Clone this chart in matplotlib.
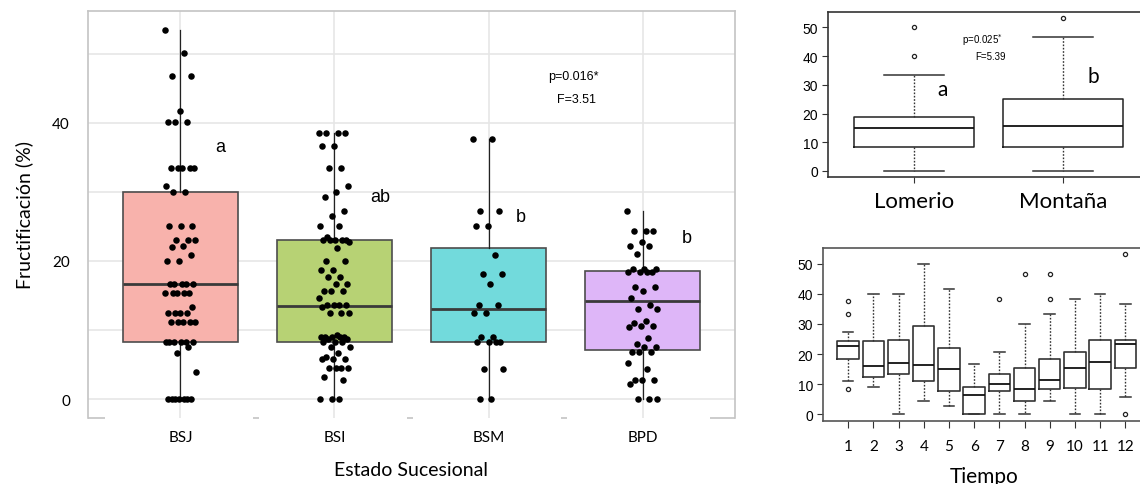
import numpy as np
import matplotlib.pyplot as plt
from matplotlib import transforms

# Fructificación (%) por estado sucesional
estados = ['BSJ', 'BSI', 'BSM', 'BPD']
colores = ['#F8B2AC', '#B7D274', '#72DADC', '#DEB6F8']

fruct_bsj = [53.5, 50.1, 46.8, 46.8, 41.7, 40.1, 40.1, 40.1,
             33.4, 33.4, 33.4, 33.4, 33.4, 30.8, 30.0, 30.0,
             25.0, 25.0, 25.0, 23.1, 23.1, 23.1, 22.2, 22.0, 20.8, 20.0, 20.0,
             16.7, 16.7, 16.7, 16.7, 16.7, 15.3, 15.3, 15.3, 15.3, 15.3,
             13.3, 12.5, 12.5, 12.5, 12.5, 11.1, 11.1, 11.1, 11.1, 11.1,
             8.3, 8.3, 8.3, 8.3, 8.3, 8.3, 7.6, 6.6, 3.9,
             0, 0, 0, 0, 0, 0, 0]
fruct_bsi = [38.5, 38.5, 38.5, 38.5, 36.7, 36.7, 33.4, 33.4, 30.8, 30.0, 29.2,
             27.3, 26.5, 25.0, 25.0, 23.5, 23.1, 23.1, 23.1, 23.1, 23.1, 22.7, 21.9,
             20.0, 20.0, 18.7, 18.7, 17.6, 17.6, 16.6, 16.6, 15.6, 15.6, 15.6, 14.6,
             13.6, 13.6, 13.6, 13.6, 13.3, 12.5, 12.5, 12.5, 9.3,
             9.0, 9.0, 9.0, 9.0, 9.0, 8.7, 8.7, 8.3, 8.3, 8.3, 7.6, 7.6,
             6.6, 6.1, 5.8, 5.8, 5.8, 4.5, 4.5, 4.5, 4.5, 3.2, 2.8, 0, 0, 0]
fruct_bsm = [37.6, 37.6, 27.3, 27.3, 25.0, 25.0, 20.8, 18.1, 18.1, 16.7,
             13.6, 13.6, 12.5, 12.5, 9.0, 9.0, 8.3, 8.3, 8.3, 8.3,
             4.4, 4.4, 0, 0]
fruct_bpd = [27.3, 24.3, 24.3, 24.3, 22.7, 22.2, 22.2, 21.0,
             18.8, 18.8, 18.8, 18.4, 18.4, 18.4, 18.4, 16.2, 16.2, 15.7, 14.7,
             13.6, 13.0, 13.0, 11.3, 11.0, 10.6, 10.6, 10.4, 8.9, 8.0, 7.5, 7.5,
             6.8, 6.8, 6.8, 5.2, 4.4, 2.7, 2.7, 2.7, 2.2, 0, 0, 0]
puntos = [fruct_bsj, fruct_bsi, fruct_bsm, fruct_bpd]

caja_q1 = [8.3, 8.3, 8.3, 7.1]
caja_med = [16.7, 13.5, 13.0, 14.2]
caja_q3 = [30.0, 23.1, 21.8, 18.5]
bigote_inf = [0, 0, 0, 0]
bigote_sup = [53.5, 38.5, 37.6, 27.3]
letras = ['a', 'ab', 'b', 'b']

# Comparación por zona
zonas = ['Lomerio', 'Montaña']
zona_q1 = [8.3, 8.3]
zona_med = [15.0, 15.6]
zona_q3 = [18.8, 25.0]
zona_inf = [0, 0]
zona_sup = [33.3, 46.7]
zona_atipicos = [[40.0, 50.0], [53.3]]
zona_letras = ['a', 'b']

# Comparación por tiempo (meses 1-12)
tiempos = [str(i) for i in range(1, 13)]
t_q1 = [18.3, 12.4, 13.2, 10.9, 7.6, 0.0, 7.6, 4.5, 8.2, 8.8, 8.2, 15.5]
t_med = [22.6, 15.9, 17.1, 16.5, 15.1, 6.5, 10.1, 8.2, 11.3, 15.5, 17.2, 23.2]
t_q3 = [24.2, 24.2, 24.8, 29.2, 22.1, 9.0, 13.2, 15.5, 18.5, 20.8, 24.8, 24.8]
t_inf = [11.0, 9.0, 0.0, 4.5, 2.7, 0.0, 0.0, 0.0, 4.5, 0.0, 0.0, 5.8]
t_sup = [27.2, 40.0, 40.0, 50.0, 41.6, 16.6, 20.8, 29.9, 33.3, 38.4, 40.0, 36.5]
t_atipicos = [[8.3, 33.3, 37.5], [], [], [], [], [], [38.4], [46.6],
              [38.4, 46.6], [], [], [0.0, 53.2]]

CALIBRI = ['Lato', 'DejaVu Sans']
ARIAL = ['Liberation Sans', 'DejaVu Sans']

fig = plt.figure(figsize=(11.4, 4.85), dpi=100)

# ---------- panel principal ----------
ax = fig.add_axes([0.0772, 0.1361, 0.5675, 0.8392])
pos = np.arange(1, 5)
stats = []
for i in range(4):
    stats.append(dict(q1=caja_q1[i], med=caja_med[i], q3=caja_q3[i],
                      whislo=bigote_inf[i], whishi=bigote_sup[i], fliers=[]))
bp = ax.bxp(stats, positions=pos, widths=0.75, patch_artist=True,
            showcaps=False, showfliers=False,
            boxprops=dict(edgecolor='#4D4D4D', linewidth=1.2),
            medianprops=dict(color='#3A3A3A', linewidth=2),
            whiskerprops=dict(color='#222222', linewidth=0.9), zorder=2)
for caja, c in zip(bp['boxes'], colores):
    caja.set_facecolor(c)

# puntos con desplazamiento horizontal determinista
for i, vals in enumerate(puntos):
    n = len(vals)
    jit = ((np.arange(n) * 0.618034) % 1 - 0.5) * 0.2
    ax.scatter(pos[i] + jit, vals, s=22, color='black', zorder=4, linewidths=0)

letra_y = [36.5, 29.4, 26.4, 23.4]
letra_dx = [0.26, 0.30, 0.21, 0.29]
for i in range(4):
    ax.text(pos[i] + letra_dx[i], letra_y[i], letras[i], fontsize=13,
            family=ARIAL, ha='center', va='center')
ax.text(3.55, 46.8, 'p=0.016*', fontsize=9, family=ARIAL, ha='center', va='center')
ax.text(3.57, 43.5, 'F=3.51', fontsize=9, family=ARIAL, ha='center', va='center')

ax.set_xlim(0.4, 4.6)
ax.set_ylim(-2.75, 56.2)
ax.set_yticks([0, 20, 40])
ax.set_yticks([10, 30, 50], minor=True)
ax.set_xticks(pos)
ax.set_xticklabels(estados, family=CALIBRI, fontsize=11)
ax.tick_params(axis='both', which='both', length=0)
ax.tick_params(axis='x', pad=9)
ax.tick_params(axis='y', pad=13, labelsize=11)
for t in ax.get_yticklabels():
    t.set_family(CALIBRI)
ax.grid(True, which='both', color='#E6E6E6', linewidth=1.2, zorder=0)
ax.set_axisbelow(True)
for lado in ['left', 'top', 'right']:
    ax.spines[lado].set_color('#C4C4C4')
    ax.spines[lado].set_linewidth(1.2)
ax.spines['bottom'].set_visible(False)
trans = transforms.blended_transform_factory(ax.transData, ax.transAxes)
for x0, x1 in [(0.4, 0.51), (1.47, 1.51), (2.47, 2.51), (3.47, 3.51), (4.44, 4.6)]:
    ax.plot([x0, x1], [0, 0], transform=trans, color='#C4C4C4', linewidth=1.2,
            clip_on=False, solid_capstyle='butt')
ax.set_xlabel('Estado Sucesional', family=CALIBRI, fontsize=14, labelpad=12)
ax.set_ylabel('Fructificación (%)', family=CALIBRI, fontsize=14, labelpad=14)

# ---------- panel zona ----------
ax2 = fig.add_axes([0.7263, 0.633, 0.2781, 0.3408])
stats2 = []
for i in range(2):
    stats2.append(dict(q1=zona_q1[i], med=zona_med[i], q3=zona_q3[i],
                       whislo=zona_inf[i], whishi=zona_sup[i], fliers=zona_atipicos[i]))
ax2.bxp(stats2, positions=[1, 2], widths=0.8, capwidths=0.4,
        boxprops=dict(color='#222222', linewidth=1.1),
        medianprops=dict(color='#111111', linewidth=1.3),
        whiskerprops=dict(color='#333333', linewidth=1.0, linestyle=(0, (1.2, 1.2))),
        capprops=dict(color='#333333', linewidth=1.1),
        flierprops=dict(marker='o', markersize=3, markerfacecolor='white',
                        markeredgecolor='#222222', markeredgewidth=0.9))
ax2.text(1.19, 28.6, zona_letras[0], fontsize=15, family=CALIBRI, ha='center', va='center')
ax2.text(2.2, 33.0, zona_letras[1], fontsize=15, family=CALIBRI, ha='center', va='center')
ax2.text(1.456, 46.0, 'p=0.025$^{*}$', fontsize=7, family=ARIAL, ha='center', va='center')
ax2.text(1.51, 40.0, 'F=5.39', fontsize=7, family=ARIAL, ha='center', va='center')
ax2.set_xlim(0.423, 2.55)
ax2.set_ylim(-2.1, 55.5)
ax2.set_yticks([0, 10, 20, 30, 40, 50])
ax2.set_xticks([1, 2])
ax2.set_xticklabels(zonas, family=CALIBRI, fontsize=16)
for t in ax2.get_yticklabels():
    t.set_family(ARIAL)
ax2.tick_params(axis='y', length=4, pad=3, labelsize=10, color='#333333')
ax2.tick_params(axis='x', length=4, pad=6, color='#333333')
ax2.spines['right'].set_visible(False)
for lado in ['left', 'top', 'bottom']:
    ax2.spines[lado].set_color('#333333')
    ax2.spines[lado].set_linewidth(1.2)

# ---------- panel tiempo ----------
ax3 = fig.add_axes([0.7219, 0.1299, 0.2825, 0.3567])
stats3 = []
for i in range(12):
    stats3.append(dict(q1=t_q1[i], med=t_med[i], q3=t_q3[i],
                       whislo=t_inf[i], whishi=t_sup[i], fliers=t_atipicos[i]))
ax3.bxp(stats3, positions=np.arange(1, 13), widths=0.85, capwidths=0.42,
        boxprops=dict(color='#333333', linewidth=1.2),
        medianprops=dict(color='#111111', linewidth=1.3),
        whiskerprops=dict(color='#333333', linewidth=1.0, linestyle=(0, (1.2, 1.2))),
        capprops=dict(color='#333333', linewidth=1.1),
        flierprops=dict(marker='o', markersize=3, markerfacecolor='white',
                        markeredgecolor='#222222', markeredgewidth=0.9))
ax3.set_xlim(0.0, 12.78)
ax3.set_ylim(-2.3, 55.3)
ax3.set_yticks([0, 10, 20, 30, 40, 50])
ax3.set_xticks(np.arange(1, 13))
ax3.set_xticklabels(tiempos, family=CALIBRI, fontsize=11)
for t in ax3.get_yticklabels():
    t.set_family(ARIAL)
ax3.tick_params(axis='y', length=4, pad=3, labelsize=10, color='#333333')
ax3.tick_params(axis='x', length=5, pad=8, color='#333333')
for lado in ['left', 'top', 'bottom', 'right']:
    ax3.spines[lado].set_color('#555555')
    ax3.spines[lado].set_linewidth(1.2)
ax3.set_xlabel('Tiempo', family=CALIBRI, fontsize=15, labelpad=9)

fig.savefig('out.png', dpi=100)
